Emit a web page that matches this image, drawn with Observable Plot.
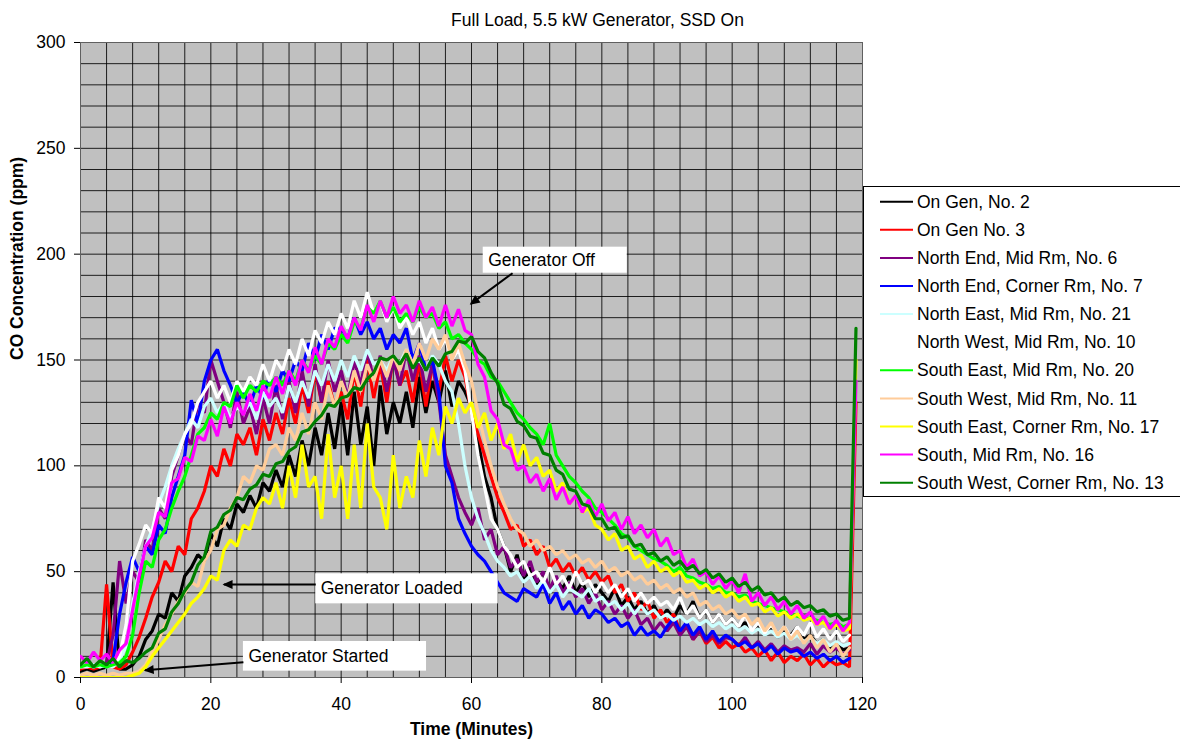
<!DOCTYPE html>
<html><head><meta charset="utf-8">
<script src="https://cdn.jsdelivr.net/npm/d3@7"></script>
<script src="https://cdn.jsdelivr.net/npm/@observablehq/plot@0.6"></script>
<style>
html,body{margin:0;padding:0;background:#fff;overflow:hidden;}
#wrap{position:relative;width:1180px;height:748px;font-family:"Liberation Sans",Arial,sans-serif;}
#legend{position:absolute;left:863px;top:186px;width:330px;height:312px;}
</style>
</head><body>
<div id="wrap"><div id="legend"></div></div>
<script>
// ---- data (CO ppm, one reading per minute, minute 0..119) ----
const seriesNames = ["On Gen, No. 2","On Gen No. 3","North End, Mid Rm, No. 6","North End, Corner Rm, No. 7","North East, Mid Rm, No. 21","North West, Mid Rm, No. 10","South East, Mid Rm, No. 20","South West, Mid Rm, No. 11","South East, Corner Rm, No. 17","South, Mid Rm, No. 16","South West, Corner Rm, No. 13"];
const seriesColors = ["#000000","#ff0000","#800080","#0000ff","#ccffff","#ffffff","#00ff00","#ffcc99","#ffff00","#ff00ff","#008000"];
const xTicks = [0,20,40,60,80,100,120];
const yTicks = [0,50,100,150,200,250,300];
const xGridLines = [0,4,8,12,16,20,24,28,32,36,40,44,48,52,56,60,64,68,72,76,80,84,88,92,96,100,104,108,112,116,120];
const yGridLines = [0,10,20,30,40,50,60,70,80,90,100,110,120,130,140,150,160,170,180,190,200,210,220,230,240,250,260,270,280,290,300];

const onGen2 = [3,4,3,4,5,45,4,4,6,10, 18,22,30,28,40,36,48,52,58,55, 68,62,75,70,82,78,86,80,92,88, 98,90,105,95,112,100,118,105,125,108, 130,105,135,110,128,100,138,115,130,120, 135,118,142,125,140,130,145,128,140,135, 128,112,95,85,70,62,50,58,45,52, 44,50,40,46,42,48,40,45,38,44, 40,36,42,34,38,32,36,30,34,28, 32,28,34,30,36,28,32,26,30,25, 28,24,26,22,25,20,23,19,22,20, 24,18,20,16,18,14,16,13,14,null];
const onGen3 = [4,5,4,5,44,5,4,6,12,19, 28,38,45,55,50,62,58,75,80,88, 100,95,108,100,115,110,118,105,122,112, 125,115,132,120,138,125,145,130,140,128, 135,122,145,128,150,132,148,130,152,138, 145,130,150,128,148,135,152,140,150,142, 125,115,105,95,85,78,70,72,62,65, 58,62,52,56,50,54,48,52,46,50, 45,48,40,44,36,40,32,36,28,32, 26,30,22,25,18,22,16,19,14,17, 14,16,12,14,10,13,8,12,7,10, 8,11,6,9,5,8,6,7,5,130];
const northEndMid6 = [5,6,5,6,7,20,55,35,50,45, 65,60,80,75,95,105,115,110,130,125, 150,140,130,118,135,120,128,115,132,120, 138,122,140,125,145,128,148,130,150,135, 145,132,150,138,155,140,152,135,150,138, 155,140,152,135,148,130,105,95,85,78, 72,80,65,70,58,62,52,56,48,55, 45,50,42,48,40,45,38,42,35,40, 32,36,30,34,28,32,25,28,22,26, 22,26,20,24,18,22,17,20,16,19, 18,15,19,14,17,13,16,12,15,13, 14,12,16,11,15,12,14,11,13,null];
const northEndCorner7 = [5,6,5,6,5,8,30,45,57,50, 62,58,72,68,85,95,105,131,120,140, 150,155,145,138,130,135,128,138,132,142, 135,145,140,150,145,158,150,162,155,165, 165,160,170,162,168,160,165,155,162,158, 165,150,158,145,150,135,100,92,75,68, 62,58,55,50,45,40,38,36,42,40, 38,44,35,40,32,36,30,34,28,32, 30,26,28,24,26,20,24,20,22,19, 24,28,22,26,20,24,18,22,17,20, 18,15,17,14,16,12,15,11,14,12, 13,10,12,9,11,8,10,7,9,null];
const northEastMid21 = [5,5,6,5,6,5,8,15,35,50, 62,70,82,90,100,108,115,122,118,128, 132,125,130,122,128,125,130,122,135,128, 132,125,138,130,140,132,145,138,148,140, 150,142,152,145,155,148,150,145,152,148, 155,148,150,145,152,148,140,135,120,100, 85,75,68,60,55,52,48,50,45,48, 42,46,40,44,38,42,40,38,42,36, 38,34,36,32,35,30,34,30,32,28, 30,27,29,26,28,25,27,24,26,23, 25,22,24,21,23,20,22,19,21,18, 20,17,19,16,18,15,17,15,16,null];
const northWestMid10 = [5,6,5,6,5,6,10,25,55,63, 72,68,85,80,98,105,115,120,130,135, 140,132,138,130,140,135,142,138,148,140, 150,145,155,148,160,152,164,158,168,162, 172,165,178,170,182,172,178,168,175,165, 170,162,168,158,165,155,160,150,155,145, 125,105,90,75,70,62,58,52,55,48, 50,45,52,44,48,42,50,44,46,40, 45,40,44,38,42,36,40,35,38,34, 36,32,38,30,34,28,32,26,30,25, 28,24,30,22,26,21,25,20,24,19, 24,20,26,19,23,18,22,17,20,null];
const southEastMid20 = [5,6,5,6,5,6,7,10,20,40, 55,52,65,70,80,88,95,105,115,118, 125,122,130,128,138,132,138,135,140,138, 142,138,145,140,150,145,152,148,158,155, 162,158,168,165,175,172,178,170,175,168, 172,168,175,170,172,165,168,160,162,158, 155,150,148,142,140,135,130,125,122,118, 115,110,120,105,100,95,92,88,85,80, 78,75,72,68,66,62,60,58,56,55, 53,50,52,48,47,45,44,42,43,40, 40,38,39,36,35,34,33,32,31,30, 29,28,28,27,26,25,26,24,25,null];
const southWestMid11 = [1,2,1,2,1,2,1,2,2,3, 6,12,18,25,30,36,40,45,43,55, 60,70,72,80,85,95,92,100,98,108, 110,105,118,112,125,115,130,122,138,128, 140,132,145,135,148,140,150,142,152,145, 155,148,158,150,160,155,162,150,158,148, 140,125,112,100,90,82,75,70,68,62, 65,60,62,58,60,56,58,54,56,52, 55,50,52,48,50,46,48,44,46,42, 44,40,42,38,40,34,36,32,34,30, 32,28,30,25,28,22,26,20,24,18, 22,16,20,14,18,12,16,10,14,null];
const southEastCorner17 = [0,0,0,0,0,0,0,0,1,2, 5,10,14,18,22,26,30,35,38,42, 48,46,60,65,62,72,70,80,85,82, 92,80,100,85,110,90,95,75,115,85, 100,75,110,80,120,90,85,70,105,80, 95,85,112,95,118,105,128,120,132,125, 130,118,125,112,120,108,115,102,110,100, 104,95,98,88,92,82,86,78,80,72, 70,65,68,60,62,56,58,52,55,50, 52,48,50,45,46,42,44,40,42,38, 40,36,38,34,35,31,33,29,31,28, 30,27,28,25,26,23,25,22,23,150];
const southMid16 = [10,7,12,8,11,7,13,16,32,48, 62,66,78,76,92,94,104,102,114,112, 122,114,128,120,130,124,134,126,138,132, 142,134,145,138,150,144,156,148,160,156, 166,160,170,164,176,168,178,170,180,172, 176,168,178,170,175,166,176,166,174,164, 162,148,142,126,122,110,108,98,100,92, 96,88,94,84,90,82,86,78,84,76, 82,74,78,70,76,68,72,66,70,62, 66,58,60,52,56,48,50,44,48,42, 46,40,49,36,40,34,38,32,36,30, 34,28,31,25,29,23,27,22,26,140];
const southWestCorner13 = [6,9,5,8,6,9,5,8,7,9, 12,14,21,23,31,35,41,45,53,57, 69,71,77,79,85,84,89,91,96,95, 101,102,107,109,116,117,121,124,129,128, 132,133,137,136,141,144,151,150,152,148, 153,146,151,145,151,147,153,154,159,158, 161,154,151,144,139,129,127,121,119,114, 113,106,105,98,96,89,88,82,81,75, 75,70,71,66,67,62,63,58,59,55, 57,53,55,51,53,49,51,47,49,45, 47,43,45,41,43,39,40,36,38,34, 36,33,34,31,32,29,30,27,28,165];

const seriesValues = [onGen2,onGen3,northEndMid6,northEndCorner7,northEastMid21,northWestMid10,southEastMid20,southWestMid11,southEastCorner17,southMid16,southWestCorner13];
const minutes = onGen2.map((_, i) => i);

// annotation boxes and arrows (in data units: minutes, ppm)
const noteLabels = ["Generator Off","Generator Loaded","Generator Started"];
const noteX1 = [61.8, 36.1, 25.0];
const noteX2 = [83.9, 64.1, 53.1];
const noteY1 = [191.0, 34.8, 3.0];
const noteY2 = [203.3, 49.0, 17.0];
const arrowFromX = [66.3, 36.1, 25.0];
const arrowFromY = [191.0, 43.9, 7.2];
const arrowToX = [59.9, 22.0, 9.9];
const arrowToY = [176.5, 43.9, 3.4];

const notes = noteLabels.map((label, i) => ({label, x1: noteX1[i], x2: noteX2[i], y1: noteY1[i], y2: noteY2[i], ym: (noteY1[i] + noteY2[i]) / 2}));
const arrows = noteLabels.map((label, i) => ({x1: arrowFromX[i], y1: arrowFromY[i], x2: arrowToX[i], y2: arrowToY[i]}));

const lineMarks = seriesValues.map((vals, s) =>
  Plot.line(minutes.map((t, i) => ({t, v: vals[i]})).filter(d => d.v != null),
    {x: "t", y: "v", stroke: seriesColors[s], strokeWidth: 3.2, clip: true, strokeLinejoin: "miter"}));

const fontFam = "'Liberation Sans', Arial, sans-serif";
const chart = Plot.plot({
  width: 1180, height: 748,
  marginLeft: 80, marginRight: 318, marginTop: 42, marginBottom: 71,
  style: {fontFamily: fontFam, fontSize: "17.5px", background: "white", color: "black", overflow: "visible"},
  x: {domain: [0, 120]},
  y: {domain: [0, 300]},
  marks: [
    Plot.frame({fill: "#c0c0c0", stroke: null}),
    Plot.ruleX(xGridLines, {stroke: "#000", strokeWidth: 1, strokeOpacity: 0.85}),
    Plot.ruleY(yGridLines, {stroke: "#000", strokeWidth: 1, strokeOpacity: 0.85}),
    Plot.frame({stroke: "#606060"}),
    ...lineMarks,
    Plot.rect(notes, {x1: "x1", x2: "x2", y1: "y1", y2: "y2", fill: "white"}),
    Plot.text(notes, {x: "x1", y: "ym", text: "label", textAnchor: "start", dx: 5, fontSize: 17.5, fill: "black"}),
    Plot.link(arrows, {x1: "x1", y1: "y1", x2: "x2", y2: "y2", stroke: "black", strokeWidth: 2, markerEnd: "arrow"}),
    Plot.axisX({ticks: xTicks, tickSize: 6, tickPadding: 14, label: null, fontSize: 17.5, color: "black"}),
    Plot.axisY({ticks: yTicks, tickSize: 6, tickPadding: 9, label: null, fontSize: 17.5, color: "black"}),
    Plot.text(["Full Load, 5.5 kW Generator, SSD On"], {text: d => d, frameAnchor: "top", dx: 126, dy: -29, fontSize: 17.5}),
    Plot.text(["CO Concentration (ppm)"], {text: d => d, frameAnchor: "left", dx: -63, rotate: -90, fontWeight: "bold", fontSize: 17.5}),
    Plot.text(["Time (Minutes)"], {text: d => d, frameAnchor: "bottom", dy: 57, fontWeight: "bold", fontSize: 17.5})
  ]
});
document.getElementById("wrap").prepend(chart);

// filled arrowheads
d3.select(chart).selectAll("marker")
  .attr("fill", "black").attr("stroke", "none").style("overflow", "visible")
  .select("path").attr("d", "M-6.5,-3.4L1,0L-6.5,3.4Z");

// legend
const lg = d3.select("#legend").append("svg").attr("width", 330).attr("height", 312)
  .style("font-family", fontFam).style("font-size", "17.5px");
lg.append("rect").attr("x", 0.5).attr("y", 0.5).attr("width", 340).attr("height", 310)
  .attr("fill", "white").attr("stroke", "#000");
seriesNames.forEach((name, i) => {
  const cy = 15.7 + 28.1 * i;
  lg.append("line").attr("x1", 17).attr("x2", 50).attr("y1", cy).attr("y2", cy)
    .attr("stroke", seriesColors[i]).attr("stroke-width", 2);
  lg.append("text").attr("x", 54).attr("y", cy).attr("dy", "0.35em").attr("fill", "black").text(name);
});
</script>
</body></html>
